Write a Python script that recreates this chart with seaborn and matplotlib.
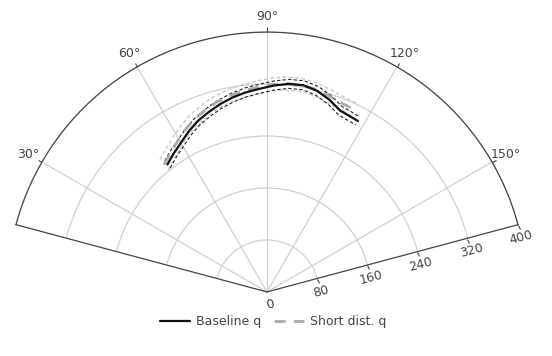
import numpy as np
import matplotlib
matplotlib.use("Agg")
import matplotlib.pyplot as plt
import matplotlib.transforms as mtransforms
from matplotlib.markers import MarkerStyle
import seaborn as sns
from matplotlib.lines import Line2D

# ---- data (theta in degrees, r in units) ----
theta_base = [52, 56, 60, 64, 68, 72, 76, 80, 84, 88, 92, 96, 100, 104, 108, 112, 118]
r_base     = [249, 257, 265, 275, 284, 291, 298, 304, 309, 313, 318, 322, 323, 319, 311, 301, 298]
r_base_lo  = [242, 250, 258, 268, 277, 284, 291, 297, 302, 306, 311, 315, 316, 312, 304, 294, 291]
r_base_hi  = [256, 264, 272, 282, 291, 298, 305, 311, 316, 320, 325, 329, 330, 326, 318, 308, 305]

theta_short = [51, 55, 59, 63, 67, 71, 75, 79, 83, 87, 91, 95, 99, 103, 107, 111, 116]
r_short     = [252, 260, 269, 279, 288, 295, 302, 307, 311, 315, 319, 322, 323, 321, 317, 313, 311]
r_short_lo  = [242, 250, 259, 269, 278, 285, 292, 297, 301, 305, 309, 312, 313, 311, 307, 303, 301]
r_short_hi  = [262, 270, 279, 289, 298, 305, 312, 317, 321, 325, 329, 332, 333, 331, 327, 323, 321]

theta_ticks = [30, 60, 90, 120, 150]
theta_labels = ["30°", "60°", "90°", "120°", "150°"]
r_ticks = [0, 80, 160, 240, 320, 400]
r_labels = ["0", "80", "160", "240", "320", "400"]
series_names = ["Baseline q", "Short dist. q"]

sns.set_theme(style="white")
plt.rcParams["font.family"] = ["DejaVu Sans"]

W, H = 552, 356
fig = plt.figure(figsize=(W / 100, H / 100), dpi=100)
# matplotlib fits the sector into a square box: side = sector width
side = 502
cx, cy = 267, 162  # centre of the sector's bounding box (pixels from top-left)
ax = fig.add_axes([(cx - side / 2) / W, (H - cy - side / 2) / H, side / W, side / H],
                  projection="polar")
ax.set_thetamin(15)
ax.set_thetamax(165)
ax.set_rlim(0, 400)

def to_std(deg):
    return np.deg2rad(180 - np.asarray(deg, dtype=float))

tc = "#444444"

# bands
sns.lineplot(x=to_std(theta_short), y=r_short_lo, ax=ax, color="#c4c4c4", lw=0.9,
             linestyle=(0, (3, 2)), sort=False)
sns.lineplot(x=to_std(theta_short), y=r_short_hi, ax=ax, color="#c4c4c4", lw=0.9,
             linestyle=(0, (3, 2)), sort=False)
sns.lineplot(x=to_std(theta_base), y=r_base_lo, ax=ax, color="#222222", lw=0.8,
             linestyle=(0, (3, 2)), sort=False)
sns.lineplot(x=to_std(theta_base), y=r_base_hi, ax=ax, color="#222222", lw=0.8,
             linestyle=(0, (3, 2)), sort=False)
# main lines
sns.lineplot(x=to_std(theta_short), y=r_short, ax=ax, color="#aaaaaa", lw=2.0,
             linestyle=(0, (4, 3)), sort=False)
sns.lineplot(x=to_std(theta_base), y=r_base, ax=ax, color="#111111", lw=1.6, sort=False)

ax.set_thetagrids([180 - t for t in theta_ticks], theta_labels)
ax.set_rticks(r_ticks)
ax.set_yticklabels([])
ax.grid(True, color="#d0d0d0", lw=0.9)
ax.tick_params(axis="x", colors=tc, labelsize=9, pad=1, bottom=False, top=True,
               length=3.5, width=0.8, direction="out")
ax.tick_params(axis="y", left=False, right=False)
for s in ax.spines.values():
    s.set_color(tc)
    s.set_linewidth(0.9)
ax.spines["inner"].set_visible(False)

# radial ticks and labels, below the right edge, rotated along it
edge = np.deg2rad(15)
tick_off = mtransforms.offset_copy(ax.transData, fig=fig, x=np.sin(edge) * 1.8,
                                   y=-np.cos(edge) * 1.8, units="points")
tick_marker = MarkerStyle("|", transform=mtransforms.Affine2D().rotate_deg(15))
ax.plot([edge] * (len(r_ticks) - 1), r_ticks[1:], linestyle="none", marker=tick_marker,
        markersize=3.6, mew=0.8, color=tc, transform=tick_off, clip_on=False)

off = mtransforms.offset_copy(ax.transData, fig=fig, x=np.sin(edge) * 9.5,
                              y=-np.cos(edge) * 9.5, units="points")
for rv, lab in zip(r_ticks, r_labels):
    ax.text(edge, rv, lab, transform=off, rotation=15, ha="center", va="center",
            fontsize=9, color=tc, rotation_mode="anchor")

handles = [Line2D([], [], color="#111111", lw=1.6),
           Line2D([], [], color="#aaaaaa", lw=2.0, linestyle=(0, (4, 3)))]
fig.legend(handles, series_names, loc="center", bbox_to_anchor=(273 / W, 1 - 322 / H),
           ncol=2, frameon=False, fontsize=9, handlelength=2.4, columnspacing=1.0,
           handletextpad=0.5, labelcolor=tc)

fig.savefig("out.png", dpi=100)
